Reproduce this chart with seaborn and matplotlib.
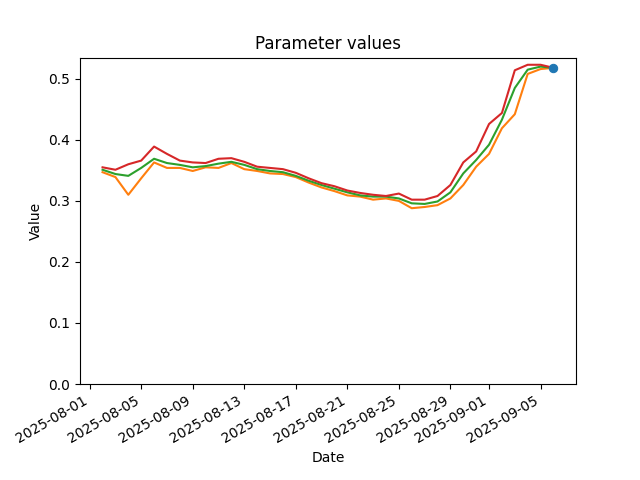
import numpy as np
import pandas as pd
import matplotlib
matplotlib.use("Agg")
import matplotlib.pyplot as plt
import seaborn as sns

# daily dates
dates = pd.date_range("2025-08-02", "2025-09-06", freq="D")

# series values
orange_vals = [0.347, 0.339, 0.310, 0.337, 0.363, 0.354, 0.354, 0.349, 0.355, 0.354,
               0.362, 0.352, 0.349, 0.345, 0.344, 0.339, 0.330, 0.322, 0.316, 0.309,
               0.307, 0.302, 0.304, 0.300, 0.288, 0.290, 0.293, 0.304, 0.326, 0.356,
               0.377, 0.419, 0.442, 0.508, 0.516, 0.518]
green_vals = [0.351, 0.344, 0.341, 0.354, 0.369, 0.362, 0.359, 0.355, 0.357, 0.361,
              0.364, 0.359, 0.352, 0.349, 0.347, 0.341, 0.333, 0.326, 0.320, 0.314,
              0.309, 0.307, 0.307, 0.304, 0.296, 0.295, 0.299, 0.314, 0.345, 0.367,
              0.392, 0.433, 0.485, 0.515, 0.520, 0.518]
red_vals = [0.355, 0.351, 0.360, 0.366, 0.389, 0.377, 0.366, 0.363, 0.362, 0.369,
            0.370, 0.364, 0.356, 0.354, 0.352, 0.346, 0.337, 0.329, 0.324, 0.317,
            0.313, 0.310, 0.308, 0.312, 0.302, 0.302, 0.308, 0.326, 0.363, 0.381,
            0.426, 0.444, 0.514, 0.523, 0.523, 0.518]
last_date = [pd.Timestamp("2025-09-06")]
last_val = [0.518]

fig, ax = plt.subplots(figsize=(6.4, 4.8), dpi=100)

sns.lineplot(x=dates, y=orange_vals, color="C1", ax=ax)
sns.lineplot(x=dates, y=green_vals, color="C2", ax=ax)
sns.lineplot(x=dates, y=red_vals, color="C3", ax=ax)
sns.lineplot(x=last_date, y=last_val, color="C0", marker="o", markersize=6,
             markeredgecolor="C0", ax=ax)

ax.set_ylim(bottom=0)
ax.set_title("Parameter values")
ax.set_xlabel("Date")
ax.set_ylabel("Value")
fig.autofmt_xdate()

plt.savefig("out.png", dpi=100)
